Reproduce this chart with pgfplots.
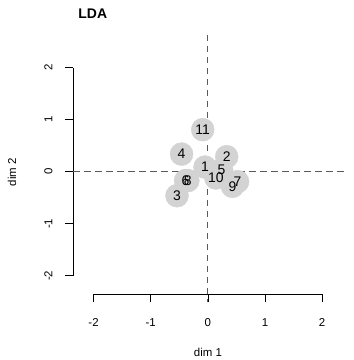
\documentclass[border=0pt]{standalone}
\usepackage{pgfplots}
\pgfplotsset{compat=1.18}
\usepackage{fontspec}
\setmainfont{Liberation Sans}
\definecolor{ptgrey}{RGB}{211,211,211}
\definecolor{dashgrey}{RGB}{90,90,90}
\begin{document}
\begin{tikzpicture}
\useasboundingbox (0,0) rectangle (354bp,360bp);
\begin{axis}[
  at={(73bp,66bp)}, anchor=south west,
  scale only axis, width=272bp, height=259bp,
  xmin=-2.36, xmax=2.40, ymin=-2.35, ymax=2.63,
  axis x line*=bottom, axis y line*=left,
  axis line style={draw=none},
  clip=false,
  xtick={-2,-1,0,1,2}, xticklabels={-2,-1,0,1,2},
  ytick={-2,-1,0,1,2}, yticklabels={-2,-1,0,1,2},
  tick align=outside, major tick length=8bp,
  tick style={black, line width=0.6pt},
  ticklabel style={font=\fontsize{11.5}{11.5}\selectfont},
  xticklabel style={yshift=-13bp},
  yticklabel style={rotate=90, anchor=south, yshift=9bp},
  xlabel={dim 1}, ylabel={dim 2},
  xlabel style={at={(axis description cs:0.496,-0.224)}, anchor=center, font=\fontsize{11.5}{11.5}\selectfont},
  ylabel style={at={(axis description cs:-0.224,0.471)}, anchor=center, rotate=0, font=\fontsize{11.5}{11.5}\selectfont},
  title={LDA},
  title style={at={(axis description cs:0.007,1.058)}, anchor=west, font=\fontsize{14}{14}\selectfont\bfseries},
]
\draw[black, line width=0.6pt] (axis cs:-2,-2.35) -- (axis cs:2,-2.35);
\draw[black, line width=0.6pt] (axis cs:-2.36,-2) -- (axis cs:-2.36,2);
\addplot[dashgrey, line width=0.9pt, dash pattern=on 6.5bp off 4.5bp] coordinates {(-2.36,0) (2.40,0)};
\addplot[dashgrey, line width=0.9pt, dash pattern=on 6.5bp off 4.5bp] coordinates {(0,2.63) (0,-2.5)};
\addplot[only marks, color=ptgrey, mark=*, mark size=11.5bp, mark options={fill=ptgrey, draw=ptgrey}] table[x=x,y=y] {
x y lab
-0.05 0.09 1
0.33 0.29 2
-0.54 -0.46 3
-0.46 0.34 4
0.24 0.04 5
-0.39 -0.17 6
0.52 -0.19 7
-0.35 -0.17 8
0.43 -0.28 9
0.14 -0.12 10
-0.09 0.81 11
};
\addplot[only marks, mark=none, nodes near coords, point meta=explicit symbolic,
  nodes near coords style={anchor=center, text=black, font=\fontsize{14}{14}\selectfont}]
  table[x=x,y=y,meta=lab] {
x y lab
-0.05 0.09 1
0.33 0.29 2
-0.54 -0.46 3
-0.46 0.34 4
0.24 0.04 5
-0.39 -0.17 6
0.52 -0.19 7
-0.35 -0.17 8
0.43 -0.28 9
0.14 -0.12 10
-0.09 0.81 11
};
\end{axis}
\end{tikzpicture}
\end{document}
